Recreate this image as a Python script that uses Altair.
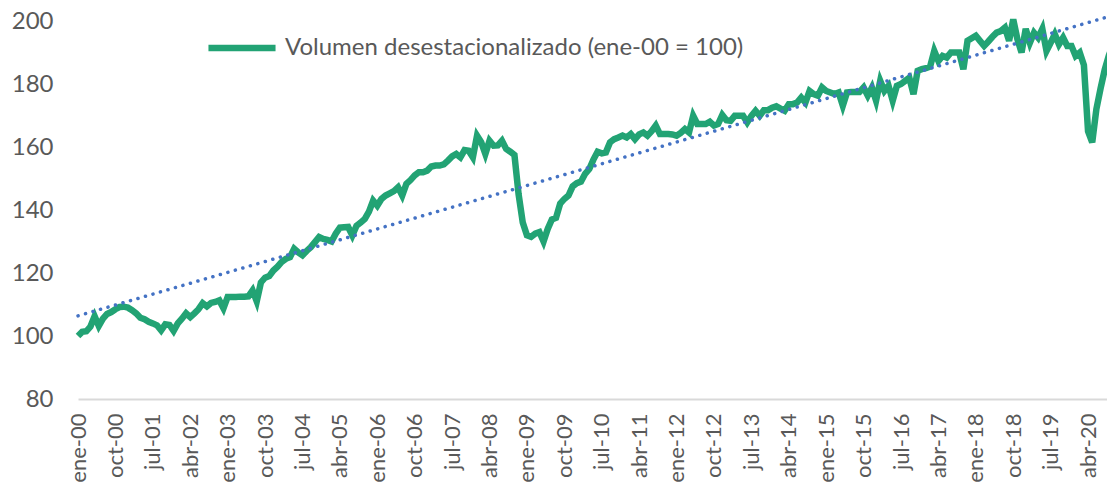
import json
import altair as alt
import pandas as pd

meses = ["ene", "feb", "mar", "abr", "may", "jun", "jul", "ago", "sep", "oct", "nov", "dic"]

v2000 = [100, 101.3, 101.5, 103, 106.3, 103.2, 105.5, 107, 107.6, 108.5, 109.2, 109.3]
v2001 = [109, 108.2, 107.2, 105.8, 105.3, 104.5, 104, 103.4, 101.8, 103.7, 103.5, 101.6]
v2002 = [104, 105.5, 107.2, 106, 107.2, 108.5, 110.4, 109.4, 110.5, 110.8, 111.3, 108.8]
v2003 = [112.4, 112.4, 112.4, 112.5, 112.5, 112.6, 114.5, 111, 117, 118.5, 119, 120.8]
v2004 = [122, 123.5, 124.5, 125, 127.7, 126.5, 125.6, 127, 128.2, 129.8, 131.4, 130.8]
v2005 = [130.5, 130, 132.5, 134.4, 134.5, 134.6, 131.9, 135, 136, 137.2, 139.5, 143]
v2006 = [141.4, 143.5, 144.6, 145.3, 146, 147.2, 144.6, 148.3, 149.5, 151, 152, 152]
v2007 = [152.5, 153.8, 154.1, 154.1, 154.5, 155.7, 157, 157.8, 156.7, 159, 158.8, 156.7]
v2008 = [163.6, 161.5, 157.8, 162, 160.4, 160.5, 162, 159.4, 158.5, 157.5, 145, 136]
v2009 = [132, 131.5, 132.5, 133, 130, 134, 137, 137.5, 142, 143.5, 144.6, 147.5]
v2010 = [148.5, 149, 151.5, 153, 156, 158.5, 158, 158.3, 161.5, 162.5, 163, 163.6]
v2011 = [163, 164.1, 162.5, 164, 164.6, 163.6, 165, 166.8, 164.1, 164.1, 164.1, 164]
v2012 = [163.6, 164.5, 165.7, 164.6, 169.9, 167.3, 167.3, 167.3, 168, 166.8, 167.3, 170.2]
v2013 = [168.5, 168.3, 169.9, 169.9, 169.9, 167.8, 169.9, 171.5, 169.9, 171.7, 171.7, 172.5]
v2014 = [172.9, 172.2, 171.5, 173.6, 173.6, 174.1, 175.7, 174.1, 177.8, 176.8, 176.3, 178.9]
v2015 = [177.8, 177.3, 176.8, 177.3, 173.1, 177.3, 177.5, 177.5, 177.5, 178.9, 176.3, 178.9]
v2016 = [174.7, 181, 177.8, 179.4, 174.7, 179.4, 180, 181, 182, 176.8, 184.2, 184.7]
v2017 = [185, 185.5, 190.5, 187.3, 188.9, 188.4, 190, 190, 190, 184.7, 193.7, 194.5]
v2018 = [195.3, 193.7, 192.1, 193.5, 195, 196.3, 196.8, 197.9, 193.7, 200.5, 194.2, 190]
v2019 = [197.5, 193.1, 196.3, 194.7, 197.5, 190.5, 193.1, 195.8, 192.6, 194.7, 192.1, 192.1]
v2020 = [188.9, 190, 186, 165, 161.5, 172, 178.5, 184.5, 189, 192.5]

valores = (v2000 + v2001 + v2002 + v2003 + v2004 + v2005 + v2006 + v2007 + v2008 + v2009
           + v2010 + v2011 + v2012 + v2013 + v2014 + v2015 + v2016 + v2017 + v2018 + v2019 + v2020)
n = len(valores)
etiquetas = [f"{meses[i % 12]}-{i // 12:02d}" for i in range(n)]
tick_idx = list(range(0, n, 9))
tick_labels = [etiquetas[i] for i in tick_idx]
y_ticks = [80, 100, 120, 140, 160, 180, 200]

serie = "Volumen desestacionalizado (ene-00 = 100)"
df = pd.DataFrame({"m": list(range(n)), "valor": valores, "etiqueta": etiquetas, "serie": serie})

FONT = "Lato"
GRAY = "#595959"
FS = 24
label_expr = json.dumps(tick_labels).replace('"', "'") + "[round(datum.value / 9)]"

x_axis = alt.Axis(
    values=tick_idx, labelExpr=label_expr, labelAngle=270, labelAlign="right",
    labelBaseline="middle", labelPadding=14, ticks=False, grid=False, title=None,
    domainColor="#D9D9D9", domainWidth=2, labelFontSize=22, labelColor=GRAY,
    labelFont=FONT, labelOverlap=False, labelBound=False, labelFlush=False,
)
y_axis = alt.Axis(
    values=y_ticks, domain=False, ticks=False, grid=False, title=None,
    labelFontSize=FS, labelColor=GRAY, labelFont=FONT, labelPadding=25,
)
x_scale = alt.Scale(domain=[0, n - 1], nice=False, zero=False)
y_scale = alt.Scale(domain=[80, 200], nice=False, zero=False)

base = alt.Chart(df)

linea = base.mark_line(strokeWidth=6.5, strokeJoin="miter").encode(
    x=alt.X("m:Q", scale=x_scale, axis=x_axis),
    y=alt.Y("valor:Q", scale=y_scale, axis=y_axis),
    color=alt.Color(
        "serie:N",
        scale=alt.Scale(domain=[serie], range=["#22A374"]),
        legend=alt.Legend(
            orient="none", legendX=127, legendY=-10, title=None, symbolType="stroke",
            symbolSize=4500, symbolStrokeWidth=6.5, labelFontSize=FS, labelColor=GRAY,
            labelFont=FONT, labelOffset=6, padding=0, labelLimit=0,
        ),
    ),
)

tendencia = base.transform_regression(
    "m", "valor", method="linear", extent=[0, n - 1]
).mark_line(color="#4472C4", strokeWidth=3.5, strokeDash=[0.1, 7.7], strokeCap="round").encode(
    x=alt.X("m:Q", scale=x_scale, axis=x_axis),
    y=alt.Y("valor:Q", scale=y_scale, axis=y_axis),
)

chart = alt.layer(linea, tendencia).properties(
    width=1035, height=378,
    autosize=alt.AutoSizeParams(type="none"),
    padding={"left": 70, "top": 13, "right": -6, "bottom": 86},
).configure_view(stroke=None)

chart.save("out.html", embed_options={"renderer": "svg", "actions": False})
